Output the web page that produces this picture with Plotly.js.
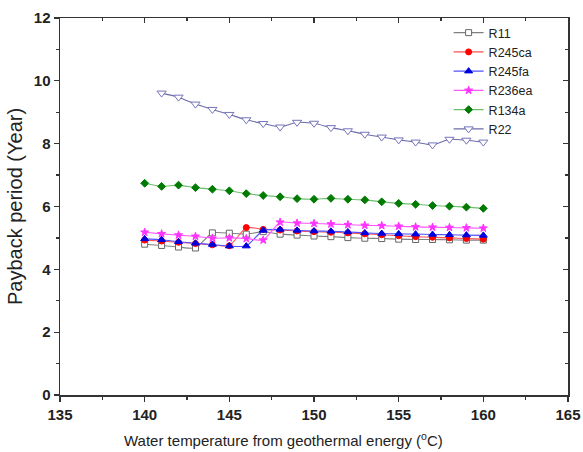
<!DOCTYPE html>
<html>
<head>
<meta charset="utf-8">
<script src="https://cdn.plot.ly/plotly-3.0.1.min.js"></script>
<style>html,body{margin:0;padding:0;background:#fff;}#chart{width:583px;height:452px;}</style>
</head>
<body>
<div id="chart"></div>
<script>
var tempsAll = [140,141,142,143,144,145,146,147,148,149,150,151,152,153,154,155,156,157,158,159,160];
var tempsR22 = [141,142,143,144,145,146,147,148,149,150,151,152,153,154,155,156,157,158,159,160];

var r11    = [4.80,4.76,4.71,4.68,5.16,5.15,5.12,5.20,5.12,5.09,5.06,5.04,5.01,4.99,4.98,4.96,4.95,4.95,4.94,4.93,4.93];
var r245ca = [4.93,4.90,4.86,4.82,4.78,4.75,5.33,5.27,5.25,5.22,5.20,5.18,5.16,5.13,5.10,5.07,5.04,5.02,5.00,4.98,4.96];
var r245fa = [4.97,4.94,4.88,4.83,4.79,4.74,4.74,5.24,5.27,5.24,5.22,5.21,5.19,5.16,5.14,5.13,5.12,5.11,5.10,5.09,5.08];
var r236ea = [5.18,5.13,5.09,5.05,4.99,5.00,4.98,4.93,5.50,5.47,5.46,5.44,5.42,5.40,5.39,5.37,5.35,5.34,5.33,5.32,5.31];
var r134a  = [6.74,6.64,6.68,6.60,6.55,6.50,6.41,6.35,6.31,6.25,6.23,6.26,6.23,6.21,6.15,6.10,6.07,6.03,6.01,5.98,5.94];
var r22    = [9.61,9.48,9.26,9.09,8.93,8.76,8.64,8.53,8.68,8.65,8.51,8.41,8.30,8.21,8.12,8.05,7.96,8.14,8.11,8.05];

var xTicks = [135,140,145,150,155,160,165];
var yTicks = [0,2,4,6,8,10,12];

function tr(name, x, y, lineColor, mSymbol, mColor, mFill, mSize) {
  return {
    type: 'scatter', mode: 'lines+markers', name: name, x: x, y: y,
    line: {color: lineColor, width: 1.1, shape: 'spline', smoothing: 0.5},
    marker: {symbol: mSymbol, size: mSize, color: mFill, line: {color: mColor, width: 1}}
  };
}

var data = [
  tr('R11', tempsAll, r11, '#808080', 'square', '#666666', '#ffffff', 6),
  tr('R245ca', tempsAll, r245ca, '#ff5050', 'circle', '#ff0000', '#ff0000', 6),
  tr('R245fa', tempsAll, r245fa, '#5050ff', 'triangle-up', '#0000dd', '#0000dd', 7),
  tr('R236ea', tempsAll, r236ea, '#ff55ff', 'star', '#ff33ff', '#ff33ff', 6),
  tr('R134a', tempsAll, r134a, '#6cbf6c', 'diamond', '#007a00', '#007a00', 6),
  tr('R22', tempsR22, r22, '#6c6caa', 'triangle-down', '#7474bb', '#ffffff', 8),
  {type:'scatter', x: [], y: [], xaxis: 'x2', yaxis: 'y2', showlegend: false, hoverinfo: 'skip'}
];

var axisLine = '#333333';
var tickFont = {family: 'Liberation Sans, Arial, sans-serif', size: 15, weight: 'bold', color: '#222222'};
var layout = {
  width: 583, height: 452,
  margin: {l: 60, r: 15, t: 18, b: 57},
  paper_bgcolor: '#ffffff', plot_bgcolor: '#ffffff',
  showlegend: true,
  font: {family: 'Liberation Sans, Arial, sans-serif', color: '#222222'},
  xaxis: {
    range: [135, 165], tickvals: xTicks, ticktext: xTicks.map(String),
    ticks: 'outside', ticklen: 5, tickwidth: 1.2, tickcolor: axisLine,
    minor: {dtick: 2.5, ticks: 'outside', ticklen: 3, tickcolor: axisLine, tickwidth: 1.2},
    showline: true, linecolor: axisLine, linewidth: 1.5, mirror: true,
    showgrid: false, zeroline: false,
    tickfont: tickFont
  },
  yaxis: {
    range: [0, 12], tickvals: yTicks, ticktext: yTicks.map(String),
    ticks: 'outside', ticklen: 5, tickwidth: 1.2, tickcolor: axisLine,
    minor: {dtick: 1, ticks: 'outside', ticklen: 3, tickcolor: axisLine, tickwidth: 1.2},
    showline: true, linecolor: axisLine, linewidth: 1.5, mirror: true,
    showgrid: false, zeroline: false,
    tickfont: tickFont,
    title: {text: 'Payback period (Year)', font: {size: 20, color: '#222222'}, standoff: 6}
  },
  xaxis2: {
    overlaying: 'x', side: 'top', anchor: 'y', range: [135, 165], tickvals: xTicks,
    ticks: 'inside', ticklen: 5, tickwidth: 1.2, tickcolor: axisLine, showticklabels: false,
    minor: {dtick: 2.5, ticks: 'inside', ticklen: 3, tickcolor: axisLine, tickwidth: 1.2},
    showgrid: false, zeroline: false, showline: false
  },
  yaxis2: {
    overlaying: 'y', side: 'right', anchor: 'x', range: [0, 12], tickvals: yTicks,
    ticks: 'inside', ticklen: 5, tickwidth: 1.2, tickcolor: axisLine, showticklabels: false,
    minor: {dtick: 1, ticks: 'inside', ticklen: 3, tickcolor: axisLine, tickwidth: 1.2},
    showgrid: false, zeroline: false, showline: false
  },
  annotations: [{
    text: 'Water temperature from geothermal energy (<sup>o</sup>C)',
    xref: 'paper', yref: 'paper', x: 0.439, y: -0.119, xanchor: 'center', yanchor: 'middle',
    showarrow: false, font: {size: 15, color: '#222222'}
  }],
  legend: {
    x: 0.765, y: 1.0, xanchor: 'left', yanchor: 'top',
    bgcolor: 'rgba(0,0,0,0)', borderwidth: 0,
    font: {size: 12.5, color: '#222222'}, itemwidth: 30, tracegroupgap: 0
  }
};

Plotly.newPlot('chart', data, layout, {displayModeBar: false, staticPlot: true});
</script>
</body>
</html>
